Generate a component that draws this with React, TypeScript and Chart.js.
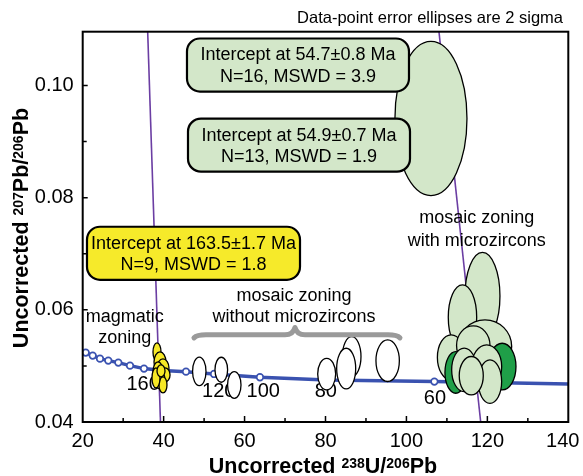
import React, { useEffect, useRef } from 'react';
import { Chart, registerables } from 'chart.js';

Chart.register(...registerables);

const FONT = "'Liberation Sans', Arial, Helvetica, sans-serif";

// ---- Concordia curve (Tera-Wasserburg), age markers every 20 Ma ----
const concordiaX = [20, 20.74, 22.47, 24.27, 26.32, 28.8, 31.69, 35.15, 39.8, 45.53, 52.45, 63.8, 80.3, 106.9, 140];
const concordiaY = [0.0527, 0.05238, 0.05184, 0.0513, 0.05095, 0.05059, 0.05005, 0.04952, 0.0492, 0.04898, 0.04857, 0.04798, 0.0475, 0.0472, 0.04679];
const concordiaIsAgeMarker = [false, true, true, true, true, true, true, true, true, true, true, true, true, true, false];

// Age labels on the concordia (Ma)
const ageLabels = ['160', '120', '100', '80', '60'];
const ageLabelX = [34.93, 53.63, 64.63, 80.07, 107.05];
const ageLabelY = [0.04661, 0.04541, 0.04541, 0.04541, 0.04423];

// ---- Discordia regression lines ----
const discordia1X = [36.04, 39.22];
const discordia1Y = [0.11, 0.04];
const discordia2X = [107.98, 118.35];
const discordia2Y = [0.11, 0.04];

// ---- Error ellipses (centre, 2-sigma half-widths) ----
// magmatic zoning (yellow)
const magCx = [38.36, 39.1, 39.84, 38.61, 40.34, 39.1, 39.84, 38.11, 39.35];
const magCy = [0.0525, 0.05071, 0.04964, 0.04893, 0.04839, 0.0475, 0.04661, 0.04786, 0.04911];
const magRx = [0.99, 1.48, 1.48, 1.24, 1.24, 1.24, 0.99, 0.99, 0.99];
const magRy = [0.00161, 0.00179, 0.00161, 0.00179, 0.00125, 0.00161, 0.00143, 0.00179, 0.00107];

// mosaic zoning without microzircons (white)
const noMicroCx = [48.81, 54.25, 57.46, 86.47, 85.11, 80.29, 95.36];
const noMicroCy = [0.04902, 0.04932, 0.04661, 0.05166, 0.04952, 0.04854, 0.05093];
const noMicroRx = [1.66, 1.56, 1.66, 2.3, 2.35, 2.22, 2.89];
const noMicroRy = [0.00254, 0.00223, 0.00238, 0.00357, 0.00363, 0.00282, 0.00371];

// mosaic zoning with microzircons (green); subset 1 = darker population
const microCx = [106.06, 118.79, 113.85, 119.41, 111.06, 116.52, 112.19, 123.66, 114.27, 119.83, 120.64, 116.02];
const microCy = [0.09411, 0.06245, 0.05866, 0.05345, 0.05152, 0.05366, 0.04884, 0.04988, 0.04929, 0.04988, 0.0472, 0.04825];
const microRx = [8.9, 4.32, 3.51, 6.6, 3.41, 4.13, 2.67, 3.41, 3.09, 3.71, 2.89, 2.97];
const microRy = [0.01375, 0.0078, 0.0058, 0.00477, 0.00402, 0.00348, 0.00371, 0.00416, 0.00388, 0.00388, 0.00388, 0.00343];
const microSubset = [0, 0, 0, 0, 0, 0, 1, 1, 0, 0, 0, 0];

// ---- Text ----
const yellowBoxText = ['Intercept at 163.5\u00b11.7 Ma', 'N=9, MSWD = 1.8'];
const greenBox1Text = ['Intercept at 54.7\u00b10.8 Ma', 'N=16, MSWD = 3.9'];
const greenBox2Text = ['Intercept at 54.9\u00b10.7 Ma', 'N=13, MSWD = 1.9'];
const noteText = 'Data-point error ellipses are 2 sigma';

const overlay = {
  id: 'overlay',
  afterDraw(chart: any) {
    const { ctx, chartArea: a, scales } = chart;
    const xs = scales.x;
    const ys = scales.y;
    const px = (v: number) => xs.getPixelForValue(v);
    const py = (v: number) => ys.getPixelForValue(v);

    const ell = (cx: number, cy: number, rx: number, ry: number, fill: string) => {
      const X = px(cx), Y = py(cy);
      const RX = Math.abs(px(cx + rx) - X), RY = Math.abs(py(cy + ry) - Y);
      ctx.beginPath();
      ctx.ellipse(X, Y, RX, RY, 0, 0, Math.PI * 2);
      ctx.fillStyle = fill;
      ctx.fill();
      ctx.lineWidth = 1.3;
      ctx.strokeStyle = '#000';
      ctx.stroke();
    };

    ctx.save();

    // age labels (underneath the ellipses)
    ctx.fillStyle = '#000';
    ctx.font = `20px ${FONT}`;
    ctx.textAlign = 'center';
    ctx.textBaseline = 'middle';
    ageLabels.forEach((s, i) => ctx.fillText(s, px(ageLabelX[i]), py(ageLabelY[i])));

    // ellipses
    magCx.forEach((c, i) => ell(c, magCy[i], magRx[i], magRy[i], '#f6e826'));
    noMicroCx.forEach((c, i) => ell(c, noMicroCy[i], noMicroRx[i], noMicroRy[i], '#ffffff'));
    microCx.forEach((c, i) =>
      ell(c, microCy[i], microRx[i], microRy[i], microSubset[i] ? '#1f9f48' : '#d3e7c9')
    );

    // frame
    ctx.lineWidth = 2;
    ctx.strokeStyle = '#000';
    ctx.strokeRect(a.left, a.top, a.right - a.left, a.bottom - a.top);

    // inward ticks
    ctx.lineWidth = 1.5;
    ctx.beginPath();
    xs.ticks.forEach((t: any) => {
      const v = Math.round(t.value);
      if (v <= 20 || v >= 140) return;
      const L = v % 20 === 0 ? 6 : 4;
      const X = px(t.value);
      ctx.moveTo(X, a.bottom);
      ctx.lineTo(X, a.bottom - L);
    });
    ys.ticks.forEach((t: any) => {
      const k = Math.round(t.value * 100);
      if (k <= 4) return;
      const L = k % 2 === 0 ? 5 : 4;
      const Y = py(t.value);
      ctx.moveTo(a.left, Y);
      ctx.lineTo(a.left + L, Y);
    });
    ctx.stroke();

    // brace over the white ellipses
    ctx.beginPath();
    ctx.strokeStyle = '#9a9a9a';
    ctx.lineWidth = 5;
    ctx.lineCap = 'round';
    ctx.lineJoin = 'round';
    const bl = px(47.5), bm = px(72.46), br = px(98.4);
    const bLow = py(0.055), bLev = py(0.05554), bTop = py(0.05685);
    ctx.moveTo(bl, bLow);
    ctx.quadraticCurveTo(bl + 3, bLev, bl + 12, bLev);
    ctx.lineTo(bm - 10, bLev);
    ctx.quadraticCurveTo(bm - 2, bLev, bm, bTop);
    ctx.quadraticCurveTo(bm + 2, bLev, bm + 10, bLev);
    ctx.lineTo(br - 12, bLev);
    ctx.quadraticCurveTo(br - 3, bLev, br, bLow);
    ctx.stroke();
    ctx.lineCap = 'butt';

    // boxes
    const box = (x0: number, y0: number, x1: number, y1: number, fill: string, lines: string[]) => {
      const X0 = px(x0), X1 = px(x1), Y0 = py(y0), Y1 = py(y1);
      ctx.beginPath();
      ctx.roundRect(X0, Y0, X1 - X0, Y1 - Y0, 13);
      ctx.fillStyle = fill;
      ctx.fill();
      ctx.lineWidth = 2.2;
      ctx.strokeStyle = '#000';
      ctx.stroke();
      ctx.fillStyle = '#000';
      ctx.font = `18px ${FONT}`;
      ctx.textAlign = 'center';
      ctx.textBaseline = 'middle';
      const cx = (X0 + X1) / 2, cy = (Y0 + Y1) / 2;
      ctx.fillText(lines[0], cx, cy - 9.5);
      ctx.fillText(lines[1], cx, cy + 12);
    };
    box(21.06, 0.07482, 73.7, 0.06536, '#f6ea2a', yellowBoxText);
    box(45.77, 0.10839, 100.63, 0.09893, '#d3e7c9', greenBox1Text);
    box(46.02, 0.09411, 100.88, 0.08464, '#d3e7c9', greenBox2Text);

    // group labels
    ctx.fillStyle = '#000';
    ctx.font = `18px ${FONT}`;
    ctx.textAlign = 'center';
    ctx.textBaseline = 'middle';
    ctx.fillText('magmatic', px(30.4), py(0.05875));
    ctx.fillText('zoning', px(30.4), py(0.055));
    ctx.fillText('mosaic zoning', px(72.2), py(0.0625));
    ctx.fillText('without microzircons', px(72.2), py(0.05875));
    ctx.fillText('mosaic zoning', px(117.4), py(0.07643));
    ctx.fillText('with microzircons', px(117.4), py(0.07232));

    // note above the frame
    ctx.font = `16.5px ${FONT}`;
    ctx.textAlign = 'right';
    ctx.fillText(noteText, 563, 18);

    // axis titles with superscripts
    const rich = (parts: [string, boolean][], cx: number, cy: number, rot: boolean) => {
      const base = `bold 21.5px ${FONT}`;
      const sup = `bold 14px ${FONT}`;
      let total = 0;
      parts.forEach(([t, s]) => {
        ctx.font = s ? sup : base;
        total += ctx.measureText(t).width;
      });
      ctx.save();
      ctx.translate(cx, cy);
      if (rot) ctx.rotate(-Math.PI / 2);
      ctx.textAlign = 'left';
      ctx.textBaseline = 'alphabetic';
      ctx.fillStyle = '#000';
      let x = -total / 2;
      parts.forEach(([t, s]) => {
        ctx.font = s ? sup : base;
        ctx.fillText(t, x, s ? 2.5 : 7.5);
        x += ctx.measureText(t).width;
      });
      ctx.restore();
    };
    rich([['Uncorrected ', false], ['238', true], ['U/', false], ['206', true], ['Pb', false]], 323, 465, false);
    rich([['Uncorrected ', false], ['207', true], ['Pb/', false], ['206', true], ['Pb', false]], 20, 228, true);

    ctx.restore();
  },
};

export default function App() {
  const ref = useRef<HTMLCanvasElement>(null);
  useEffect(() => {
    const canvas = ref.current!;
    const chart = new Chart(canvas, {
      type: 'scatter',
      data: {
        datasets: [
          {
            label: 'Concordia',
            data: concordiaX.map((x, i) => ({ x, y: concordiaY[i] })),
            showLine: true,
            borderColor: '#3a52b0',
            borderWidth: 3.5,
            pointRadius: concordiaIsAgeMarker.map((m) => (m ? 3.3 : 0)),
            pointBackgroundColor: '#ffffff',
            pointBorderColor: '#3a52b0',
            pointBorderWidth: 1.7,
            tension: 0,
          } as any,
          {
            label: 'Discordia 1',
            data: discordia1X.map((x, i) => ({ x, y: discordia1Y[i] })),
            showLine: true,
            borderColor: '#6b3ea3',
            borderWidth: 1.6,
            pointRadius: 0,
          } as any,
          {
            label: 'Discordia 2',
            data: discordia2X.map((x, i) => ({ x, y: discordia2Y[i] })),
            showLine: true,
            borderColor: '#6b3ea3',
            borderWidth: 1.6,
            pointRadius: 0,
          } as any,
        ],
      },
      options: {
        responsive: false,
        animation: false,
        layout: { padding: { left: 0, right: 14.7, top: 31.7, bottom: 0 } },
        plugins: { legend: { display: false }, tooltip: { enabled: false } },
        scales: {
          x: {
            type: 'linear',
            min: 20,
            max: 140,
            afterFit: (s: any) => {
              s.height = 54;
              s.paddingLeft = 0;
              s.paddingRight = 0;
            },
            grid: { display: false, drawTicks: false },
            border: { display: false },
            ticks: {
              stepSize: 10,
              includeBounds: false,
              autoSkip: false,
              maxRotation: 0,
              padding: 7,
              color: '#000',
              font: { family: FONT, size: 20 },
              callback: (v: any) => {
                const n = Math.round(v);
                if (n % 20 !== 0) return '';
                return n === 140 ? '140  ' : String(n);
              },
            },
          },
          y: {
            type: 'linear',
            min: 0.04,
            max: 0.1096,
            afterFit: (s: any) => {
              s.width = 82.7;
              s.paddingTop = 0;
              s.paddingBottom = 0;
            },
            grid: { display: false, drawTicks: false },
            border: { display: false },
            ticks: {
              stepSize: 0.01,
              includeBounds: false,
              autoSkip: false,
              padding: 9,
              color: '#000',
              font: { family: FONT, size: 20 },
              callback: (v: any) => {
                const k = Math.round(v * 100);
                return k % 2 === 0 ? (k / 100).toFixed(2) : '';
              },
            },
          },
        },
      } as any,
      plugins: [overlay],
    });
    return () => chart.destroy();
  }, []);
  return (
    <div style={{ position: 'fixed', left: 0, top: 0, width: 583, height: 476, background: '#fff' }}>
      <canvas ref={ref} width={583} height={476} style={{ display: 'block', width: 583, height: 476 }} />
    </div>
  );
}
